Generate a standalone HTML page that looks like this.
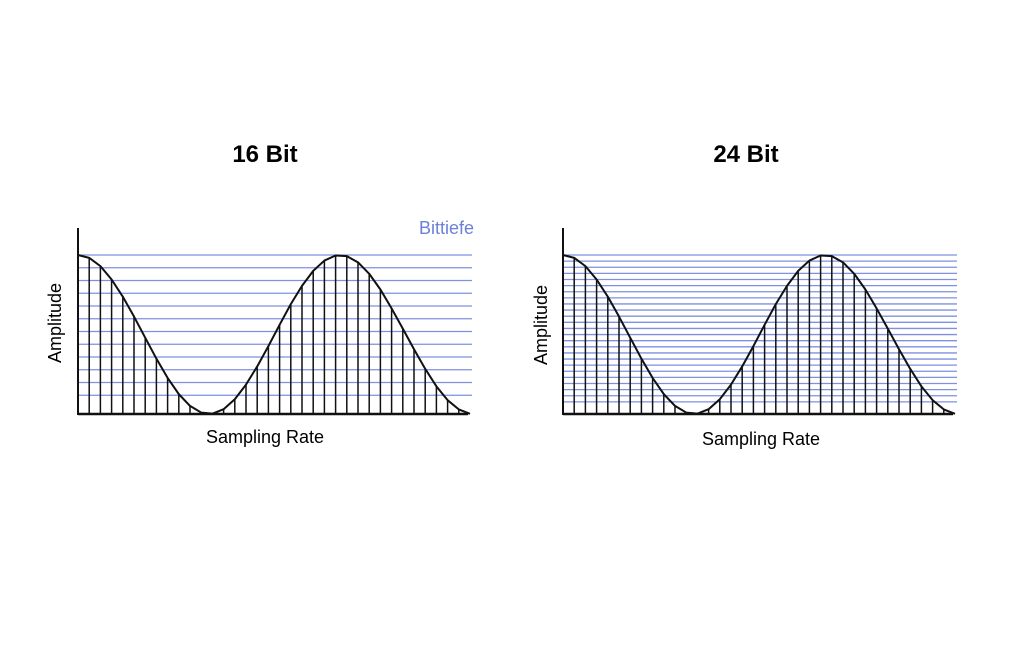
<!DOCTYPE html>
<html><head><meta charset="utf-8"><style>
body{margin:0;background:#fff;width:1024px;height:660px;overflow:hidden;font-family:"Liberation Sans",sans-serif}
</style></head><body>
<svg id="c" width="1024" height="660">
<text x="265" y="162" text-anchor="middle" font-size="24" font-weight="bold">16 Bit</text>
<text x="746" y="162" text-anchor="middle" font-size="24" font-weight="bold">24 Bit</text>
<text x="474" y="234" text-anchor="end" font-size="18" fill="#6b80d9">Bittiefe</text>
<text x="265" y="443" text-anchor="middle" font-size="18">Sampling Rate</text>
<text x="761" y="445" text-anchor="middle" font-size="18">Sampling Rate</text>
<text transform="translate(61,323) rotate(-90)" text-anchor="middle" font-size="18">Amplitude</text>
<text transform="translate(547,325) rotate(-90)" text-anchor="middle" font-size="18">Amplitude</text>
</svg>
<script>
const sampleIndex=[0,1,2,3,4,5,6,7,8,9,10,11,12,13,14,15,16,17,18,19,20,21,22,23,24,25,26,27,28,29,30,31,32,33,34,35];
const amplitude=[1,.982,.930,.846,.738,.613,.480,.348,.227,.125,.051,.009,.002,.030,.093,.185,.299,.427,.561,.691,.806,.900,.965,.997,.993,.954,.882,.783,.664,.537,.407,.284,.174,.087,.029,.001];
const levels16=12;
const levels24=25;
const svg=document.getElementById('c');
const NS='http://www.w3.org/2000/svg';
function mk(t,a){const e=document.createElementNS(NS,t);for(const k in a)e.setAttribute(k,a[k]);svg.appendChild(e);return e;}
function chart(ox,levels,tag){
  const base=414,top=255,h=base-top;
  const xs=i=>ox+i*11.2, ys=v=>base-v*h;
  for(let k=0;k<levels;k++){
    const y=top+k*(h-6)/levels;
    const l=mk('line',{x1:ox,x2:ox+394,y1:y,y2:y,stroke:'#7f90e0','stroke-width':1.3});
    
    
  }
  for(let i=1;i<sampleIndex.length-1;i++){
    const s=mk('line',{x1:xs(sampleIndex[i]),x2:xs(sampleIndex[i]),y1:base,y2:ys(amplitude[i]),stroke:'#111','stroke-width':1.5});
    
    
  }
  let d='';
  sampleIndex.forEach((t,i)=>{d+=(i?'L':'M')+xs(t)+','+ys(amplitude[i]);});
  const p=mk('path',{d:d,fill:'none',stroke:'#111','stroke-width':2,'stroke-linejoin':'round'});
  
  
  const ya=mk('line',{x1:ox,x2:ox,y1:228,y2:base+1,stroke:'#111','stroke-width':2});
  
  
  const xa=mk('line',{x1:ox,x2:ox+390,y1:base,y2:base,stroke:'#111','stroke-width':2.5});
  
  
}
chart(78,levels16,'16');
chart(563,levels24,'24');
</script>
</body></html>
